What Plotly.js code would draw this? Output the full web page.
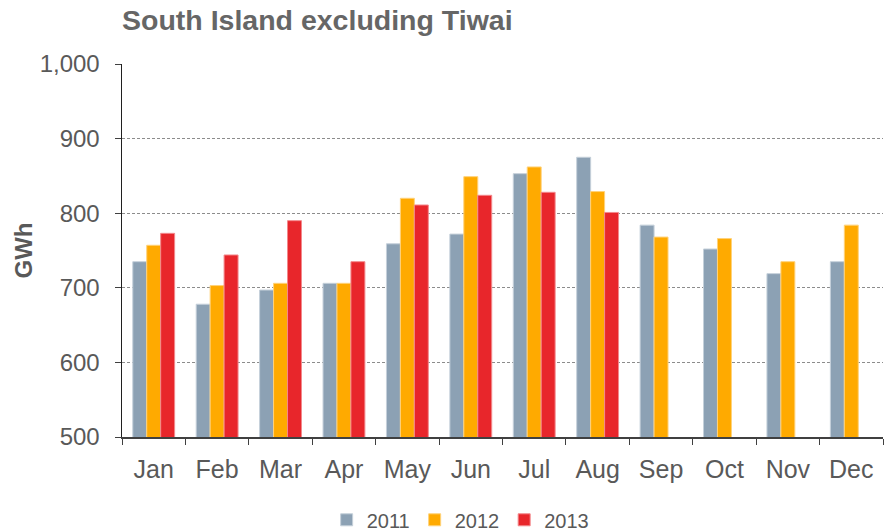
<!DOCTYPE html>
<html>
<head>
<meta charset="utf-8">
<script src="https://cdn.plot.ly/plotly-3.0.1.min.js"></script>
<style>html,body{margin:0;padding:0;background:#fff;}#chart{width:893px;height:532px;}</style>
</head>
<body>
<div id="chart"></div>
<script>
const months = ["Jan","Feb","Mar","Apr","May","Jun","Jul","Aug","Sep","Oct","Nov","Dec"];
const values2011 = [735, 678, 697, 706, 759, 772, 853, 875, 784, 752, 719, 735];
const values2012 = [757, 703, 706, 706, 820, 849, 862, 829, 768, 766, 735, 784];
const values2013 = [773, 744, 790, 735, 811, 824, 828, 801, null, null, null, null];
const seriesNames = ["2011", "2012", "2013"];
const colors = ["#8ca1b4", "#ffaa00", "#e8262b"];
const borders = ["#c5d0da", "#ffd27a", "#f3898c"];

const allVals = [values2011, values2012, values2013];
const traces = allVals.map((v, i) => ({
  type: "bar",
  name: seriesNames[i],
  x: months,
  y: v,
  marker: {color: colors[i], line: {color: borders[i], width: 1}},
  hoverinfo: "x+y+name"
}));

const layout = {
  width: 893, height: 532,
  margin: {l: 122, r: 10, t: 64, b: 95, autoexpand: false},
  paper_bgcolor: "#fff", plot_bgcolor: "#fff",
  font: {family: "Liberation Sans, Arial, sans-serif", color: "#595959"},
  title: {
    text: "<b>South Island excluding Tiwai</b>",
    font: {size: 28.5, color: "#666666", family: "Liberation Sans, Arial, sans-serif"},
    x: 0, xref: "paper", xanchor: "left", y: 0.962, yanchor: "middle"
  },
  barmode: "group",
  bargap: 0.34,
  bargroupgap: 0,
  xaxis: {
    type: "category",
    tickson: "boundaries",
    ticks: "outside", ticklen: 6, tickcolor: "#404040", tickwidth: 1,
    ticklabelstandoff: 9,
    showline: true, linecolor: "#404040", linewidth: 1.5,
    showgrid: false,
    tickfont: {size: 25, color: "#595959"},
    automargin: false,
    fixedrange: true
  },
  yaxis: {
    range: [500, 1000],
    dtick: 100,
    tickformat: ",d",
    ticks: "outside", ticklen: 6, tickcolor: "#404040",
    ticklabelstandoff: 10,
    showline: true, linecolor: "#202020", linewidth: 1.5,
    showgrid: true, gridcolor: "#8c8c8c", griddash: "3px,2px", gridwidth: 1,
    zeroline: false,
    tickfont: {size: 24, color: "#595959"},
    title: {text: "<b>GWh</b>", font: {size: 24, color: "#595959"}, standoff: 0},
    automargin: false,
    fixedrange: true
  },
  legend: {
    orientation: "h",
    x: 0.445, xanchor: "center",
    y: -0.222, yanchor: "middle",
    font: {size: 20, color: "#595959"},
    itemwidth: 30,
    traceorder: "normal"
  },
  showlegend: true
};

Plotly.newPlot("chart", traces, layout, {displayModeBar: false, staticPlot: true});
</script>
</body>
</html>
